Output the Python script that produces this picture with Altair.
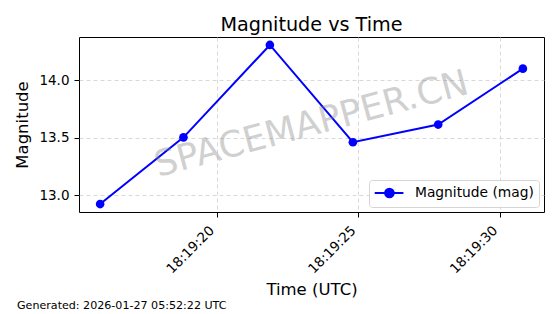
import altair as alt
import pandas as pd

# ---- data ----
times = [
    "2026-01-26T18:19:15.890Z",
    "2026-01-26T18:19:18.830Z",
    "2026-01-26T18:19:21.880Z",
    "2026-01-26T18:19:24.810Z",
    "2026-01-26T18:19:27.820Z",
    "2026-01-26T18:19:30.810Z",
]
magnitudes = [12.925, 13.505, 14.308, 13.462, 13.616, 14.102]
series_name = "Magnitude (mag)"
x_tick_times = ["2026-01-26T18:19:20Z", "2026-01-26T18:19:25Z", "2026-01-26T18:19:30Z"]
y_ticks = [13.0, 13.5, 14.0]
watermark = "SPACEMAPPER.CN"
footer = "Generated: 2026-01-27 05:52:22 UTC"

EPOCH = pd.Timestamp("1970-01-01", tz="UTC")


def to_ms(values):
    idx = pd.to_datetime(values, utc=True)
    return [int((t - EPOCH) / pd.Timedelta(milliseconds=1)) for t in idx]


t_ms = to_ms(times)
tick_ms = to_ms(x_tick_times)

# matplotlib-like 5% margins
tr = max(t_ms) - min(t_ms)
x_dom = [min(t_ms) - 0.05 * tr, max(t_ms) + 0.05 * tr]
yr = max(magnitudes) - min(magnitudes)
y_dom = [min(magnitudes) - 0.05 * yr, max(magnitudes) + 0.05 * yr]

df = pd.DataFrame({"t": t_ms, "mag": magnitudes, "series": series_name})
wm_df = pd.DataFrame({"w": [watermark]})
ft_df = pd.DataFrame({"f": [footer]})

FONT = "DejaVu Sans"
BLUE = "#0000ff"
W, H = 465, 175

x_enc = alt.X(
    "t:T",
    scale=alt.Scale(type="utc", domain=x_dom, nice=False),
    axis=alt.Axis(
        values=tick_ms,
        format="%H:%M:%S",
        labelAngle=315,
        labelAlign="right",
        labelBaseline="bottom",
        labelPadding=16,
        title="Time (UTC)",
        titlePadding=6,
    ),
)
y_enc = alt.Y(
    "mag:Q",
    scale=alt.Scale(domain=y_dom, zero=False, nice=False),
    axis=alt.Axis(values=y_ticks, format=".1f", title="Magnitude", titlePadding=8),
)

legend_path = "M-1.04,0L3.06,0M1.68,0A0.62,0.62,0,1,1,0.44,0A0.62,0.62,0,1,1,1.68,0Z"
color_enc = alt.Color(
    "series:N",
    scale=alt.Scale(range=[BLUE]),
    legend=alt.Legend(
        title=None,
        orient="bottom-right",
        offset=5,
        padding=5,
        symbolType=legend_path,
        symbolSize=196,
        symbolFillColor=BLUE,
        symbolStrokeColor=BLUE,
        symbolStrokeWidth=2,
        symbolOpacity=1,
        labelOffset=25,
        labelFontSize=13.8,
        labelFont=FONT,
        labelColor="black",
        strokeColor="#d5d5d5",
        fillColor="rgba(255,255,255,0.8)",
        cornerRadius=3,
    ),
)

base = alt.Chart(df).encode(x=x_enc, y=y_enc, color=color_enc)
line = base.mark_line(strokeWidth=2)
points = base.mark_point(filled=True, size=75, opacity=1)

wm = alt.Chart(wm_df).mark_text(
    font=FONT, fontSize=36, angle=345, color="#808080", opacity=0.36,
    align="center", baseline="middle",
).encode(text="w:N", x=alt.value(W / 2), y=alt.value(H / 2))

ft = alt.Chart(ft_df).mark_text(
    font=FONT, fontSize=11.1, color="black", align="left", baseline="alphabetic",
).encode(text="f:N", x=alt.value(17 - 79), y=alt.value(309 - 37))

chart = (
    alt.layer(line, points, wm, ft)
    .properties(
        width=W,
        height=H,
        background="white",
        title=alt.TitleParams(
            "Magnitude vs Time", fontSize=19.2, font=FONT, fontWeight="normal",
            color="black", offset=2, anchor="middle", frame="group",
        ),
        autosize=alt.AutoSizeParams(type="none"),
        padding={"left": 79, "top": 37, "right": 16, "bottom": 102},
    )
    .configure_view(stroke="black", strokeWidth=1)
    .configure_axis(
        domain=False,
        grid=True,
        gridColor="#cfcfcf",
        gridDash=[4, 3],
        gridWidth=0.8,
        ticks=True,
        tickColor="black",
        tickSize=5,
        tickWidth=1,
        labelFont=FONT,
        labelFontSize=13.5,
        labelColor="black",
        labelPadding=5,
        titleFont=FONT,
        titleFontSize=16.5,
        titleFontWeight="normal",
        titleColor="black",
    )
)

chart.save("out.html", embed_options={"renderer": "svg", "actions": False})
